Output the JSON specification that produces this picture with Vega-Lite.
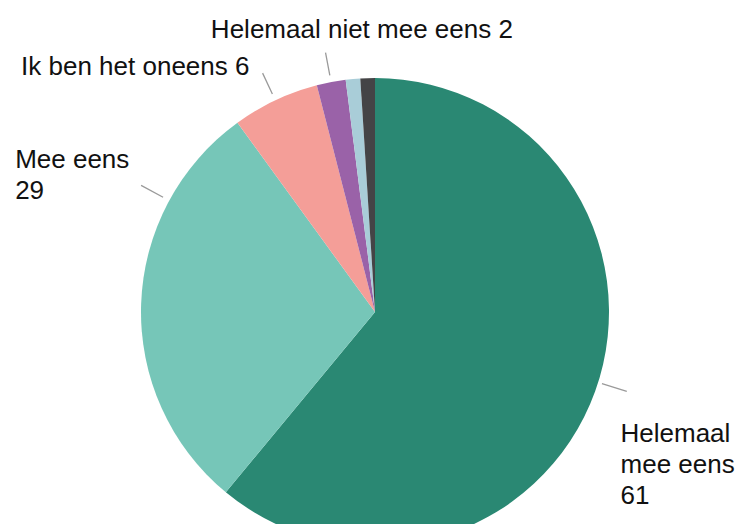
{
  "$schema": "https://vega.github.io/schema/vega-lite/v6.json",
  "width": 730,
  "height": 424,
  "autosize": {"type": "none"},
  "padding": {"left": 10, "top": 100, "right": 0, "bottom": 0},
  "background": "white",
  "config": {"view": {"stroke": null}, "text": {"font": "Liberation Sans"}},
  "data": {
    "values": [
      {"cat": "Helemaal mee eens", "value": 61, "order": 1, "label": "Helemaal\nmee eens\n61"},
      {"cat": "Mee eens", "value": 29, "order": 2, "label": "Mee eens\n29"},
      {"cat": "Ik ben het oneens", "value": 6, "order": 3, "label": "Ik ben het oneens 6"},
      {"cat": "Helemaal niet mee eens", "value": 2, "order": 4, "label": "Helemaal niet mee eens 2"},
      {"cat": "Neutraal", "value": 1, "order": 5, "label": ""},
      {"cat": "Geen mening", "value": 1, "order": 6, "label": ""}
    ]
  },
  "encoding": {
    "order": {"field": "order", "type": "quantitative"}
  },
  "layer": [
    {
      "mark": {"type": "arc", "outerRadius": 234},
      "encoding": {
        "theta": {"field": "value", "type": "quantitative", "stack": true},
        "color": {
          "field": "cat",
          "type": "nominal",
          "legend": null,
          "scale": {
            "domain": ["Helemaal mee eens", "Mee eens", "Ik ben het oneens", "Helemaal niet mee eens", "Neutraal", "Geen mening"],
            "range": ["#2a8873", "#76c6b8", "#f49e98", "#9a62a8", "#a9cdd8", "#444446"]
          }
        }
      }
    },
    {
      "transform": [
        {"stack": "value", "groupby": [], "sort": [{"field": "order", "order": "ascending"}], "as": ["v0", "v1"]},
        {"filter": "datum.cat == 'Ik ben het oneens' || datum.cat == 'Helemaal niet mee eens'"}
      ],
      "mark": {"type": "arc", "radius": 264, "radius2": 241, "padAngle": 3.2, "filled": false, "stroke": "#9a9a9a", "strokeWidth": 1.3},
      "encoding": {
        "theta": {"field": "v0", "type": "quantitative"},
        "theta2": {"field": "v1"}
      }
    },
    {
      "transform": [
        {"stack": "value", "groupby": [], "sort": [{"field": "order", "order": "ascending"}], "as": ["v0", "v1"]},
        {"filter": "datum.cat == 'Mee eens'"}
      ],
      "mark": {"type": "arc", "radius": 266, "radius2": 241, "padAngle": 3.2, "thetaOffset": 0.465, "theta2Offset": 0.465, "filled": false, "stroke": "#9a9a9a", "strokeWidth": 1.3},
      "encoding": {
        "theta": {"field": "v0", "type": "quantitative"},
        "theta2": {"field": "v1"}
      }
    },
    {
      "transform": [
        {"stack": "value", "groupby": [], "sort": [{"field": "order", "order": "ascending"}], "as": ["v0", "v1"]},
        {"filter": "datum.cat == 'Helemaal mee eens'"}
      ],
      "mark": {"type": "arc", "radius": 264, "radius2": 238, "padAngle": 3.2, "thetaOffset": 0.5, "theta2Offset": -0.58, "filled": false, "stroke": "#9a9a9a", "strokeWidth": 1.3},
      "encoding": {
        "theta": {"field": "v0", "type": "quantitative"},
        "theta2": {"field": "v1"}
      }
    },
    {
      "mark": {"type": "text", "radius": 262, "fontSize": 26, "align": "left", "baseline": "alphabetic", "lineBreak": "\n", "lineHeight": 31, "dx": -1, "dy": 41, "color": "#111111"},
      "encoding": {
        "theta": {"field": "value", "type": "quantitative", "stack": true},
        "text": {"condition": {"test": "datum.cat == 'Helemaal mee eens'", "field": "label"}, "value": ""}
      }
    },
    {
      "mark": {"type": "text", "radius": 262, "fontSize": 26, "align": "left", "baseline": "alphabetic", "lineBreak": "\n", "lineHeight": 31, "dx": -98, "dy": -136, "color": "#111111"},
      "encoding": {
        "theta": {"field": "value", "type": "quantitative", "stack": true},
        "text": {"condition": {"test": "datum.cat == 'Mee eens'", "field": "label"}, "value": ""}
      }
    },
    {
      "mark": {"type": "text", "radius": 262, "fontSize": 26, "align": "right", "baseline": "alphabetic", "dx": -14, "dy": 0, "color": "#111111"},
      "encoding": {
        "theta": {"field": "value", "type": "quantitative", "stack": true},
        "text": {"condition": {"test": "datum.cat == 'Ik ben het oneens'", "field": "label"}, "value": ""}
      }
    },
    {
      "mark": {"type": "text", "radius": 262, "fontSize": 26, "align": "center", "baseline": "alphabetic", "dx": 36, "dy": -17, "color": "#111111"},
      "encoding": {
        "theta": {"field": "value", "type": "quantitative", "stack": true},
        "text": {"condition": {"test": "datum.cat == 'Helemaal niet mee eens'", "field": "label"}, "value": ""}
      }
    }
  ]
}
